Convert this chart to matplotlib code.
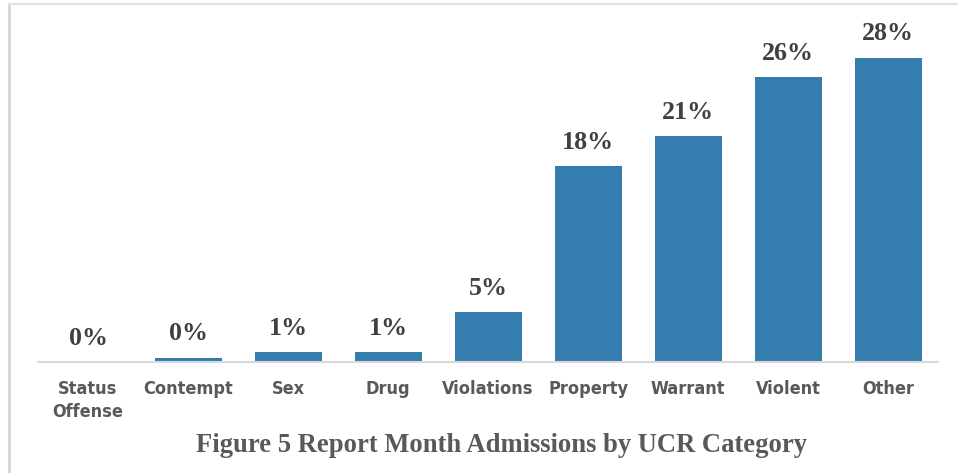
import matplotlib
matplotlib.use("Agg")
import matplotlib.pyplot as plt
from matplotlib.lines import Line2D

# data
categories = ["Status\nOffense", "Contempt", "Sex", "Drug", "Violations",
              "Property", "Warrant", "Violent", "Other"]
pct = [0.0, 0.4, 0.9, 0.9, 4.6, 18.0, 20.8, 26.2, 28.0]
title = "Figure 5 Report Month Admissions by UCR Category"

bar_color = "#357DAF"
label_gray = "#404040"
text_gray = "#595959"

fig = plt.figure(figsize=(9.58, 4.73), dpi=100)
ax = fig.add_axes([38 / 958, 111 / 473, 900 / 958, 352 / 473])

x = range(len(categories))
ax.bar(x, pct, width=0.67, color=bar_color, zorder=2)

for i, v in enumerate(pct):
    ax.text(i, v + 1.15, "{:.0f}%".format(v), ha="center", va="bottom",
            fontsize=18.7, fontweight="bold", family="Liberation Serif",
            color=label_gray)

ax.set_xlim(-0.5, len(categories) - 0.5)
ax.set_ylim(0, 32.4)
ax.set_xticks(list(x))
ax.set_xticklabels(categories, fontsize=13, fontweight="bold",
                   family="DejaVu Sans", fontstretch="condensed",
                   color=text_gray, linespacing=1.35)
ax.tick_params(axis="x", length=0, pad=13)
ax.set_yticks([])
for s in ["top", "right", "left"]:
    ax.spines[s].set_visible(False)
ax.spines["bottom"].set_color("#D9D9D9")
ax.spines["bottom"].set_linewidth(1.5)

fig.text(501 / 958, 1 - 445 / 473, title, ha="center", va="center",
         fontsize=19.2, fontweight="bold", family="Liberation Serif",
         color=text_gray)

# light frame round the chart (left and top edges visible)
fig.add_artist(Line2D([9 / 958, 9 / 958], [0, 1 - 4 / 473],
                      transform=fig.transFigure, color="#D6D6D6", lw=2))
fig.add_artist(Line2D([9 / 958, 1], [1 - 4 / 473, 1 - 4 / 473],
                      transform=fig.transFigure, color="#E3E3E3", lw=1.5))

fig.savefig("out.png", dpi=100)
